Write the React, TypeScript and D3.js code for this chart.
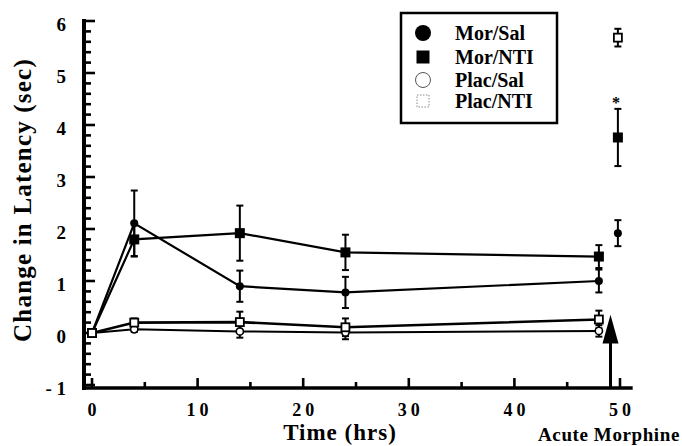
import React, { useEffect, useRef } from "react"
import * as d3 from "d3"

// time points (hrs)
const times = [0, 4, 14, 24, 48]
const acuteTime = 49.8
const arrowTime = 49.1

// change in latency (sec), means and SEM per group
const morSal = [0, 2.11, 0.9, 0.78, 1.0]
const morSalErr = [0, 0.63, 0.3, 0.3, 0.22]
const morNti = [0, 1.8, 1.92, 1.55, 1.47]
const morNtiErr = [0, 0.33, 0.53, 0.34, 0.22]
const placSal = [0, 0.07, 0.03, 0.01, 0.04]
const placSalErr = [0, 0.05, 0.12, 0.13, 0.11]
const placNti = [0, 0.2, 0.21, 0.11, 0.26]
const placNtiErr = [0, 0.08, 0.2, 0.17, 0.17]

// acute morphine challenge
const acuteGroups = ["Mor/Sal", "Mor/NTI", "Plac/NTI"]
const acuteValues = [1.92, 3.76, 5.68]
const acuteErrs = [0.25, 0.55, 0.17]
const starGroup = "Mor/NTI"

const xTicks = [0, 10, 20, 30, 40, 50]
const yTicks = [-1, 0, 1, 2, 3, 4, 5, 6]

const legendNames = ["Mor/Sal", "Mor/NTI", "Plac/Sal", "Plac/NTI"]

const FONT = "'Liberation Serif', 'Times New Roman', serif"

type Marker = "dot" | "square" | "openDot" | "openSquare"

export default function App() {
  const svgRef = useRef<SVGSVGElement>(null)

  useEffect(() => {
    if (!svgRef.current) return
    const svg = d3.select(svgRef.current)
    svg.selectAll("*").remove()

    const x = d3.scaleLinear().domain([0, 50]).range([92, 620])
    const y = d3.scaleLinear().domain([-1, 6]).range([385, 21])

    const axisX = 84
    const axisY = 388

    const drawMarker = (g: d3.Selection<SVGGElement, unknown, null, undefined>, type: Marker, cx: number, cy: number, big = false) => {
      if (type === "dot") {
        g.append("circle").attr("cx", cx).attr("cy", cy).attr("r", big ? 8 : 4).attr("fill", "#000")
      } else if (type === "square") {
        const s = big ? 13 : 10
        g.append("rect").attr("x", cx - s / 2).attr("y", cy - s / 2).attr("width", s).attr("height", s).attr("fill", "#000")
      } else if (type === "openDot") {
        g.append("circle").attr("cx", cx).attr("cy", cy).attr("r", big ? 7.5 : 3.6)
          .attr("fill", "#fff").attr("stroke", big ? "#555" : "#000").attr("stroke-width", big ? 1 : 1.6)
      } else {
        const s = big ? 12 : 8
        g.append("rect").attr("x", cx - s / 2).attr("y", cy - s / 2).attr("width", s).attr("height", s)
          .attr("fill", "#fff").attr("stroke", big ? "#888" : "#000").attr("stroke-width", big ? 1 : 1.8)
          .attr("stroke-dasharray", big ? "1.5,1.5" : null)
      }
    }

    const drawErr = (g: d3.Selection<SVGGElement, unknown, null, undefined>, cx: number, v: number, e: number) => {
      if (e <= 0) return
      g.append("line").attr("x1", cx).attr("x2", cx).attr("y1", y(v - e)).attr("y2", y(v + e))
        .attr("stroke", "#000").attr("stroke-width", 2)
      ;[v - e, v + e].forEach((end) => {
        g.append("line").attr("x1", cx - 3.5).attr("x2", cx + 3.5).attr("y1", y(end)).attr("y2", y(end))
          .attr("stroke", "#000").attr("stroke-width", 2)
      })
    }

    const series: { name: string; values: number[]; errs: number[]; marker: Marker; width: number }[] = [
      { name: "Mor/Sal", values: morSal, errs: morSalErr, marker: "dot", width: 2.2 },
      { name: "Mor/NTI", values: morNti, errs: morNtiErr, marker: "square", width: 2.2 },
      { name: "Plac/Sal", values: placSal, errs: placSalErr, marker: "openDot", width: 2 },
      { name: "Plac/NTI", values: placNti, errs: placNtiErr, marker: "openSquare", width: 2.6 },
    ]

    // axes
    const axes = svg.append("g")
    axes.append("line").attr("x1", axisX).attr("x2", axisX).attr("y1", y(6) - 2).attr("y2", axisY + 2)
      .attr("stroke", "#000").attr("stroke-width", 4)
    axes.append("line").attr("x1", axisX - 2).attr("x2", x(51.2)).attr("y1", axisY).attr("y2", axisY)
      .attr("stroke", "#000").attr("stroke-width", 3.5)

    d3.range(-1, 6.01, 0.2).forEach((t) => {
      const major = Math.abs(t - Math.round(t)) < 0.01
      axes.append("line").attr("x1", axisX).attr("x2", axisX + (major ? 11 : 7))
        .attr("y1", y(t)).attr("y2", y(t)).attr("stroke", "#000").attr("stroke-width", 2.6)
    })
    d3.range(0, 50.1, 5).forEach((t) => {
      const major = t % 10 === 0
      axes.append("line").attr("x1", x(t)).attr("x2", x(t))
        .attr("y1", axisY).attr("y2", axisY - (major ? 10 : 6)).attr("stroke", "#000").attr("stroke-width", 2.6)
    })

    axes.selectAll(".ytl").data(yTicks).enter().append("text")
      .attr("x", 66).attr("y", (d) => y(d) + 10)
      .attr("text-anchor", "end")
      .style("font-family", FONT).style("font-weight", "bold").style("font-size", "19px")
      .text((d) => (d < 0 ? `- ${Math.abs(d)}` : `${d}`))

    axes.selectAll(".xtl").data(xTicks).enter().append("text")
      .attr("x", (d) => x(d) + 2).attr("y", 416)
      .attr("text-anchor", "middle")
      .style("font-family", FONT).style("font-weight", "bold").style("font-size", "18px")
      .style("letter-spacing", "4px")
      .text((d) => `${d}`)

    // axis titles
    svg.append("text")
      .attr("transform", `translate(31,200) rotate(-90)`)
      .attr("text-anchor", "middle")
      .style("font-family", FONT).style("font-weight", "bold").style("font-size", "25px")
      .style("letter-spacing", "1.2px")
      .text("Change in Latency (sec)")
    svg.append("text")
      .attr("x", 340).attr("y", 440)
      .attr("text-anchor", "middle")
      .style("font-family", FONT).style("font-weight", "bold").style("font-size", "23px")
      .style("letter-spacing", "1px")
      .text("Time (hrs)")
    svg.append("text")
      .attr("x", 609).attr("y", 441)
      .attr("text-anchor", "middle")
      .style("font-family", FONT).style("font-weight", "bold").style("font-size", "19px")
      .style("letter-spacing", "0.6px")
      .text("Acute Morphine")

    // lines
    const line = d3.line<number>().x((_, i) => x(times[i])).y((d) => y(d))
    const plot = svg.append("g")
    series.forEach((s) => {
      plot.append("path").datum(s.values).attr("d", line)
        .attr("fill", "none").attr("stroke", "#000").attr("stroke-width", s.width)
    })
    series.forEach((s) => {
      s.values.forEach((v, i) => drawErr(plot, x(times[i]), v, s.errs[i]))
    })
    series.forEach((s) => {
      s.values.forEach((v, i) => drawMarker(plot, s.marker, x(times[i]), y(v)))
    })

    // acute morphine points
    acuteGroups.forEach((name, i) => {
      const s = series.find((d) => d.name === name)!
      drawErr(plot, x(acuteTime), acuteValues[i], acuteErrs[i])
      drawMarker(plot, s.marker, x(acuteTime), y(acuteValues[i]))
      if (name === starGroup) {
        plot.append("text")
          .attr("x", x(acuteTime) - 2).attr("y", y(acuteValues[i] + acuteErrs[i]) - 1)
          .attr("text-anchor", "middle")
          .style("font-family", FONT).style("font-weight", "bold").style("font-size", "16px")
          .text("*")
      }
    })

    // arrow
    const ax = x(arrowTime)
    plot.append("line").attr("x1", ax).attr("x2", ax).attr("y1", y(-0.15)).attr("y2", axisY)
      .attr("stroke", "#000").attr("stroke-width", 3)
    plot.append("path")
      .attr("d", `M${ax},${y(0.35)} L${ax - 8},${y(-0.2)} L${ax + 8},${y(-0.2)} Z`)
      .attr("fill", "#000")

    // legend
    const lg = svg.append("g")
    lg.append("rect").attr("x", 401).attr("y", 13).attr("width", 156).attr("height", 110)
      .attr("fill", "#fff").attr("stroke", "#000").attr("stroke-width", 2.5)
    const rowY = [33, 57, 80, 101]
    legendNames.forEach((name, i) => {
      const s = series.find((d) => d.name === name)!
      drawMarker(lg, s.marker, 423, rowY[i], true)
      lg.append("text").attr("x", 455).attr("y", rowY[i] + 7)
        .style("font-family", FONT).style("font-weight", "bold").style("font-size", "20px")
        .text(name)
    })
  }, [])

  return (
    <svg
      ref={svgRef}
      width={682}
      height={446}
      viewBox="0 0 682 446"
      style={{ position: "absolute", left: 0, top: 0, display: "block", background: "#fff" }}
    />
  )
}
